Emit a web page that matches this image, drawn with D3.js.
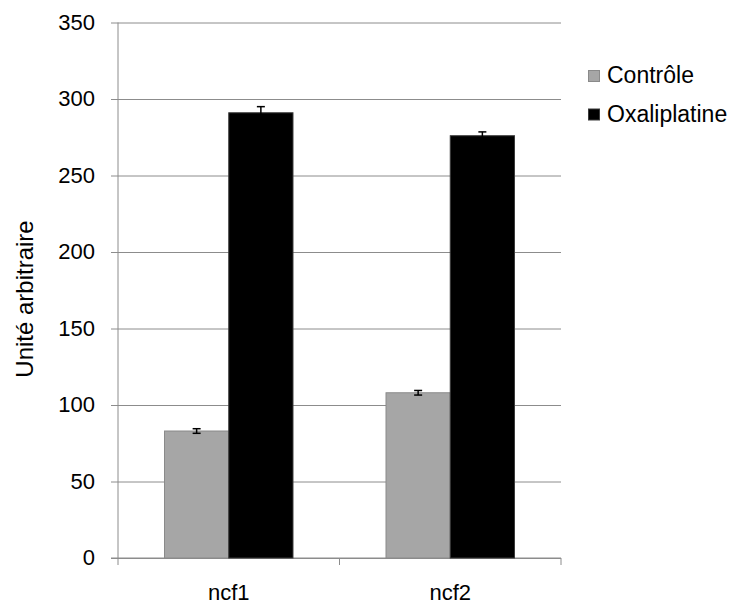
<!DOCTYPE html>
<html>
<head>
<meta charset="utf-8">
<script src="https://cdn.jsdelivr.net/npm/d3@7"></script>
<style>
  body { margin: 0; background: #fff; }
  svg { display: block; font-family: "Liberation Sans", Arial, sans-serif; }
</style>
</head>
<body>
<div id="chart"></div>
<script>
const categories = ["ncf1", "ncf2"];
const seriesNames = ["Contrôle", "Oxaliplatine"];
const controleValues = [83, 108];
const controleErrors = [1.5, 1.5];
const oxaliValues = [291, 276];
const oxaliErrors = [4, 2.5];
const yTicks = [0, 50, 100, 150, 200, 250, 300, 350];

const seriesColors = { "Contrôle": "#a6a6a6", "Oxaliplatine": "#000000" };
const seriesStroke = { "Contrôle": "#8a8a8a", "Oxaliplatine": "#3a3a3a" };

const width = 734, height = 606;
const plot = { left: 118, right: 561, top: 22.5, bottom: 558 };

const svg = d3.select("#chart").append("svg")
  .attr("width", width)
  .attr("height", height);

const x = d3.scaleBand()
  .domain(categories)
  .range([plot.left, plot.right])
  .padding(0);

const groupPad = 0.21; // fraction of the band left empty on each side
const xInner = d3.scaleBand()
  .domain(seriesNames)
  .range([x.bandwidth() * groupPad, x.bandwidth() * (1 - groupPad)])
  .padding(0);

const y = d3.scaleLinear()
  .domain([0, 350])
  .range([plot.bottom, plot.top]);

// gridlines + y labels
const yAxis = svg.append("g")
  .attr("transform", `translate(${plot.left},0)`)
  .call(d3.axisLeft(y).tickValues(yTicks).tickSize(-(plot.right - plot.left)).tickSizeOuter(0));
yAxis.select(".domain").remove();
yAxis.selectAll(".tick line")
  .attr("x1", -7)
  .attr("stroke", "#8c8c8c");
yAxis.selectAll(".tick text")
  .attr("fill", "#000")
  .style("font-size", "22px")
  .attr("x", -23)
  .attr("dy", "0.3em");

// y axis line
svg.append("line")
  .attr("x1", plot.left).attr("x2", plot.left)
  .attr("y1", plot.top).attr("y2", plot.bottom)
  .attr("stroke", "#8c8c8c");

// x axis line + boundary ticks
svg.append("line")
  .attr("x1", plot.left - 7).attr("x2", plot.right)
  .attr("y1", plot.bottom).attr("y2", plot.bottom)
  .attr("stroke", "#8c8c8c");
const bounds = categories.map(c => x(c)).concat([plot.right]);
svg.selectAll(".xtick")
  .data(bounds)
  .join("line")
  .attr("class", "xtick")
  .attr("x1", d => d).attr("x2", d => d)
  .attr("y1", plot.bottom).attr("y2", plot.bottom + 7)
  .attr("stroke", "#8c8c8c");

svg.selectAll(".xlabel")
  .data(categories)
  .join("text")
  .attr("class", "xlabel")
  .attr("x", d => x(d) + x.bandwidth() / 2)
  .attr("y", 600)
  .attr("text-anchor", "middle")
  .style("font-size", "22px")
  .text(d => d);

// bars
const rows = [];
categories.forEach((c, i) => {
  rows.push({ cat: c, series: "Contrôle", value: controleValues[i], err: controleErrors[i] });
  rows.push({ cat: c, series: "Oxaliplatine", value: oxaliValues[i], err: oxaliErrors[i] });
});

const bars = svg.append("g");
bars.selectAll("rect")
  .data(rows)
  .join("rect")
  .attr("x", d => x(d.cat) + xInner(d.series))
  .attr("y", d => y(d.value))
  .attr("width", xInner.bandwidth())
  .attr("height", d => y(0) - y(d.value))
  .attr("fill", d => seriesColors[d.series])
  .attr("stroke", d => seriesStroke[d.series])
  .attr("stroke-width", 1);

// error bars
const errG = svg.append("g").attr("stroke", "#000").attr("stroke-width", 1.5);
rows.forEach(d => {
  const cx = x(d.cat) + xInner(d.series) + xInner.bandwidth() / 2;
  const y1 = y(d.value + d.err), y2 = y(d.value - d.err);
  errG.append("line").attr("x1", cx).attr("x2", cx).attr("y1", y1).attr("y2", y2);
  errG.append("line").attr("x1", cx - 4).attr("x2", cx + 4).attr("y1", y1).attr("y2", y1);
  errG.append("line").attr("x1", cx - 4).attr("x2", cx + 4).attr("y1", y2).attr("y2", y2);
});

// y title
svg.append("text")
  .attr("transform", `translate(33,${(220 + 378) / 2}) rotate(-90)`)
  .attr("text-anchor", "middle")
  .style("font-size", "24px")
  .text("Unité arbitraire");

// legend
const legend = svg.append("g").attr("transform", "translate(588,70)");
seriesNames.forEach((s, i) => {
  const item = legend.append("g").attr("transform", `translate(0,${i * 38.5})`);
  item.append("rect")
    .attr("x", 0.5).attr("y", 0.5)
    .attr("width", 11).attr("height", 11)
    .attr("fill", seriesColors[s])
    .attr("stroke", seriesStroke[s]);
  item.append("text")
    .attr("x", 19)
    .attr("y", 13)
    .style("font-size", "23px")
    .text(s);
});
</script>
</body>
</html>
